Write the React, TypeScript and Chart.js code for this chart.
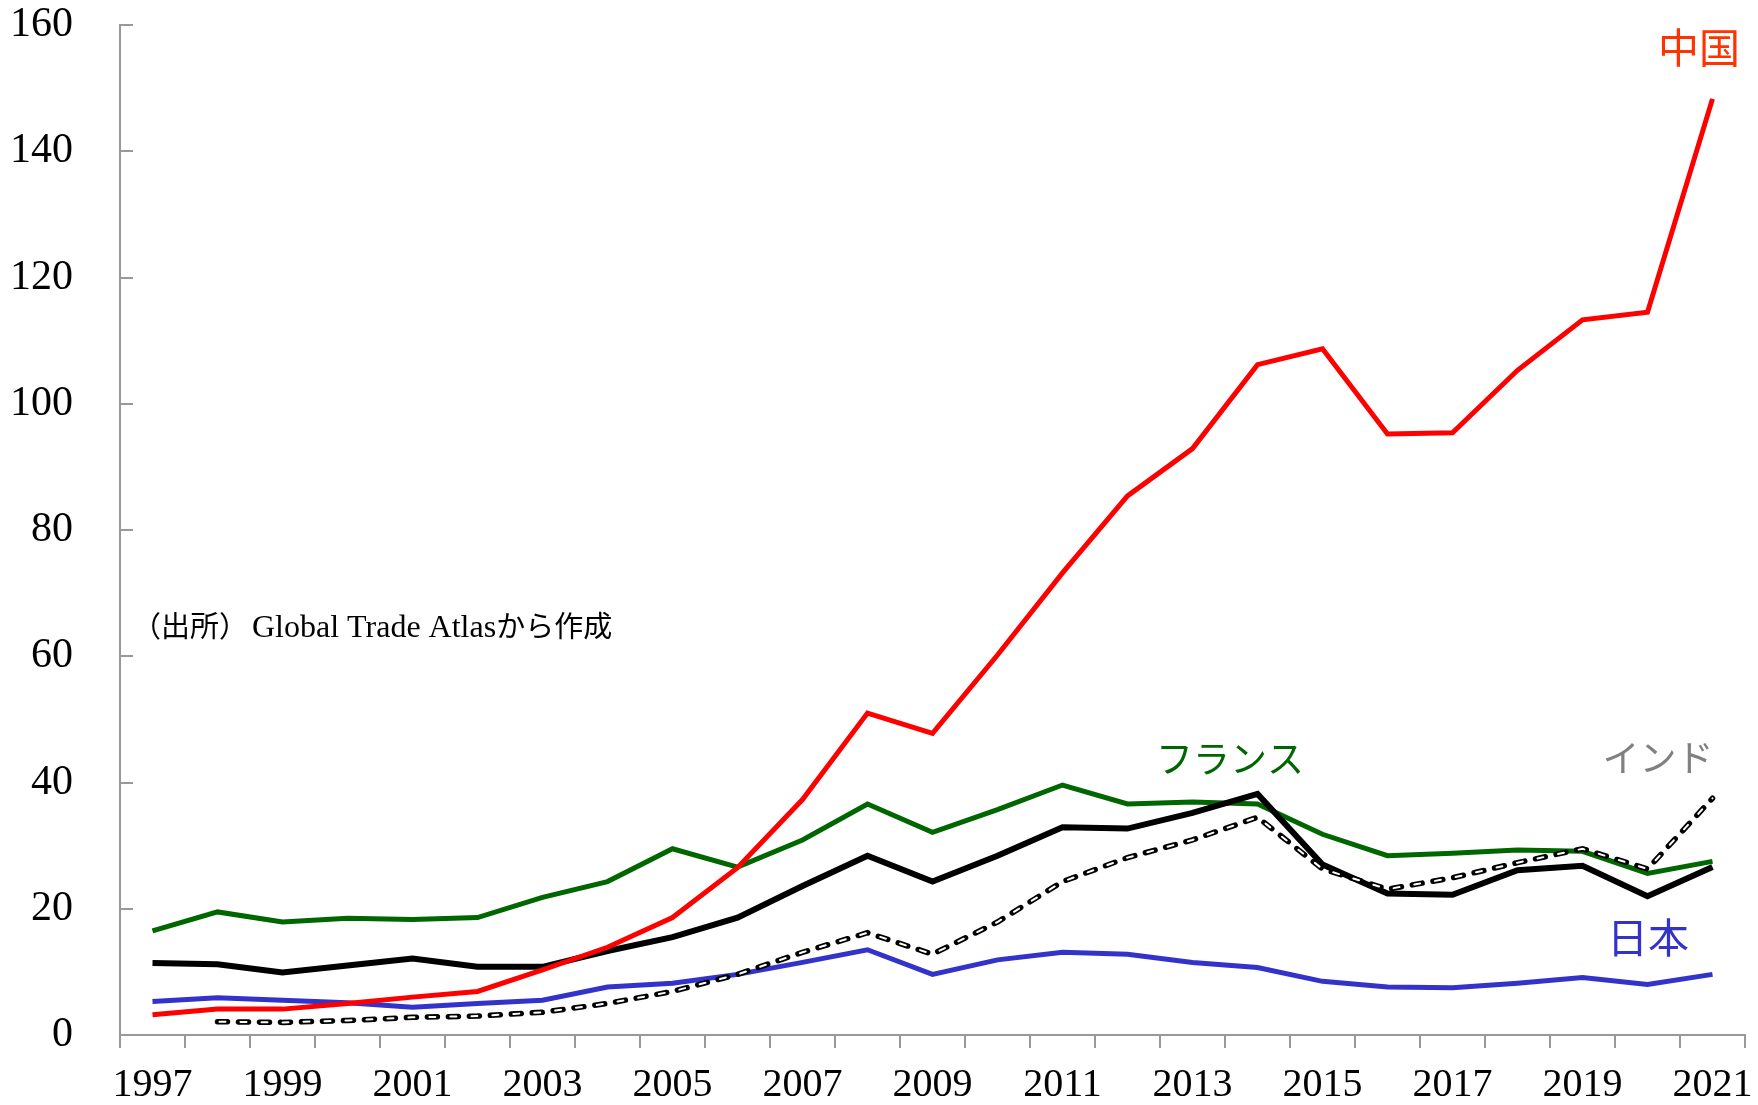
import React, { useEffect, useRef } from 'react';
import { Chart, registerables } from 'chart.js';

Chart.register(...registerables);

const years = ['1997', '1998', '1999', '2000', '2001', '2002', '2003', '2004', '2005', '2006', '2007', '2008', '2009', '2010', '2011', '2012', '2013', '2014', '2015', '2016', '2017', '2018', '2019', '2020', '2021'];

const china = [3.2, 4.1, 4.1, 5.0, 6.0, 6.9, 10.3, 13.9, 18.6, 26.5, 37.3, 51.0, 47.8, 60.2, 73.2, 85.4, 92.9, 106.2, 108.7, 95.2, 95.4, 105.3, 113.3, 114.5, 148.3];
const france = [16.5, 19.5, 17.9, 18.5, 18.3, 18.6, 21.8, 24.3, 29.5, 26.6, 30.9, 36.6, 32.1, 35.7, 39.6, 36.6, 36.9, 36.6, 31.8, 28.4, 28.8, 29.3, 29.1, 25.6, 27.5];
const blackSeries = [11.4, 11.2, 9.9, 11.0, 12.1, 10.8, 10.8, 13.3, 15.5, 18.6, 23.6, 28.4, 24.3, 28.4, 32.9, 32.7, 35.2, 38.2, 27.0, 22.4, 22.2, 26.1, 26.8, 22.0, 26.6];
const india = [null, 2.1, 2.0, 2.3, 2.8, 3.0, 3.6, 5.0, 6.9, 9.6, 13.1, 16.2, 12.8, 17.9, 24.3, 28.1, 30.9, 34.5, 26.3, 23.1, 24.9, 27.3, 29.5, 26.3, 37.5];
const japan = [5.3, 5.9, 5.5, 5.1, 4.4, 5.0, 5.5, 7.6, 8.2, 9.6, 11.5, 13.5, 9.6, 11.9, 13.1, 12.8, 11.5, 10.7, 8.5, 7.6, 7.5, 8.2, 9.1, 8.0, 9.6];

const yMin = 0;
const yMax = 160;
const yStep = 20;

const sourceParts = ['（出所）', 'Global Trade Atlas', 'から作成'];
const labelChina = '中国';
const labelFrance = 'フランス';
const labelIndia = 'インド';
const labelJapan = '日本';

const notesPlugin = {
  id: 'notes',
  afterDatasetsDraw(chart: any) {
    const ctx = chart.ctx;
    ctx.save();
    ctx.textBaseline = 'middle';
    ctx.textAlign = 'center';
    const cjk = "'Noto Sans CJK JP', 'Noto Sans', sans-serif";
    ctx.font = `41px ${cjk}`;
    ctx.fillStyle = '#ff3300';
    ctx.fillText(labelChina, 1699, 47);
    ctx.fillStyle = '#3333cc';
    ctx.fillText(labelJapan, 1648, 937);
    ctx.font = `37px ${cjk}`;
    ctx.fillStyle = '#006600';
    ctx.fillText(labelFrance, 1230, 759);
    ctx.fillStyle = '#808080';
    ctx.fillText(labelIndia, 1658, 758);

    ctx.textAlign = 'left';
    ctx.textBaseline = 'alphabetic';
    ctx.fillStyle = '#000000';
    let x = 132;
    const base = 637;
    const fonts = [`29px ${cjk}`, "32px 'Liberation Serif', serif", `29px ${cjk}`];
    sourceParts.forEach((t, i) => {
      ctx.font = fonts[i];
      ctx.fillText(t, x, base);
      x += ctx.measureText(t).width + (i === 0 ? 4 : 0);
    });
    ctx.restore();
  },
};

export default function App() {
  const ref = useRef<HTMLCanvasElement | null>(null);

  useEffect(() => {
    if (!ref.current) return;
    const chart = new Chart(ref.current, {
      type: 'line',
      data: {
        labels: years,
        datasets: [
          {
            label: 'インド core',
            data: india,
            borderColor: '#ffffff',
            borderWidth: 2,
            borderDash: [6, 15],
            borderDashOffset: -2,
            borderCapStyle: 'round',
            pointRadius: 0,
            fill: false,
            tension: 0,
          },
          {
            label: 'インド',
            data: india,
            borderColor: '#000000',
            borderWidth: 5.5,
            borderDash: [10, 11],
            borderCapStyle: 'round',
            pointRadius: 0,
            fill: false,
            tension: 0,
          },
          {
            label: '中国',
            data: china,
            borderColor: '#ff0000',
            borderWidth: 5,
            pointRadius: 0,
            fill: false,
            tension: 0,
          },
          {
            label: 'その他',
            data: blackSeries,
            borderColor: '#000000',
            borderWidth: 6,
            pointRadius: 0,
            fill: false,
            tension: 0,
          },
          {
            label: '日本',
            data: japan,
            borderColor: '#3333cc',
            borderWidth: 5,
            pointRadius: 0,
            fill: false,
            tension: 0,
          },
          {
            label: 'フランス',
            data: france,
            borderColor: '#006600',
            borderWidth: 5,
            pointRadius: 0,
            fill: false,
            tension: 0,
          },
        ],
      },
      options: {
        responsive: false,
        animation: false,
        layout: { padding: { top: 25, right: 13, left: 0, bottom: 0 } },
        plugins: {
          legend: { display: false },
          tooltip: { enabled: false },
        },
        scales: {
          x: {
            offset: true,
            grid: {
              offset: true,
              drawOnChartArea: false,
              drawTicks: true,
              tickLength: 13,
              color: '#999999',
              lineWidth: 2,
            },
            border: { color: '#999999', width: 2 },
            ticks: {
              autoSkip: false,
              maxRotation: 0,
              minRotation: 0,
              padding: 13,
              color: '#000000',
              font: { family: "'Liberation Serif', serif", size: 40 },
              callback: (_v: any, i: number) => (i % 2 === 0 ? years[i] : ''),
            },
            afterFit: (scale: any) => {
              scale.height = 70;
              scale.paddingLeft = 0;
              scale.paddingRight = 0;
            },
          },
          y: {
            min: yMin,
            max: yMax,
            grid: {
              drawOnChartArea: false,
              drawTicks: true,
              tickLength: -13,
              color: '#999999',
              lineWidth: 2,
            },
            border: { color: '#999999', width: 2 },
            ticks: {
              stepSize: yStep,
              padding: 60,
              color: '#000000',
              font: { family: "'Liberation Serif', serif", size: 42 },
            },
            afterFit: (scale: any) => {
              scale.width = 120;
              scale.paddingTop = 0;
              scale.paddingBottom = 0;
            },
          },
        },
      },
      plugins: [notesPlugin],
    });
    return () => chart.destroy();
  }, []);

  return (
    <div style={{ position: 'absolute', left: 0, top: 0, width: 1758, height: 1105, background: '#ffffff' }}>
      <canvas ref={ref} width={1758} height={1105} />
    </div>
  );
}
